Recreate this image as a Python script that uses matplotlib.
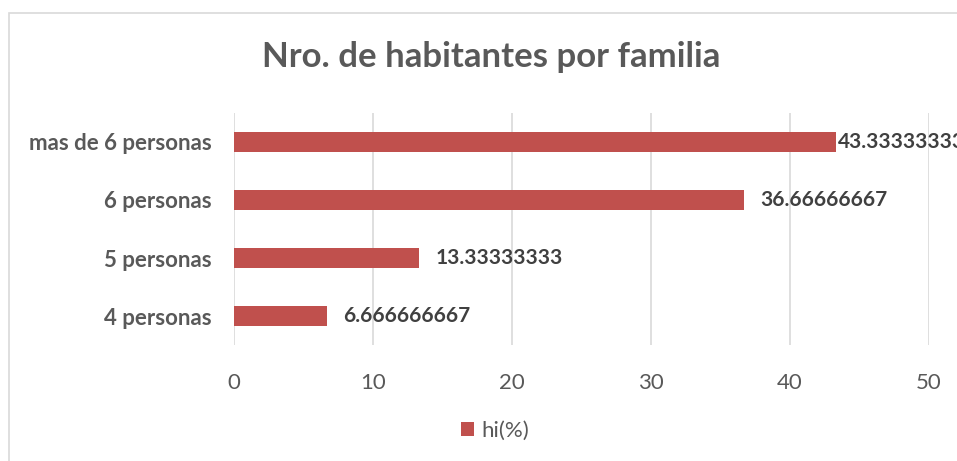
import matplotlib
matplotlib.use("Agg")
import matplotlib.pyplot as plt
from matplotlib.patches import Rectangle

categories = ["4 personas", "5 personas", "6 personas", "mas de 6 personas"]
hi_pct = [6.666666667, 13.33333333, 36.66666667, 43.33333333]
value_labels = ["6.666666667", "13.33333333", "36.66666667", "43.33333333"]
x_ticks = [0, 10, 20, 30, 40, 50]

BAR = "#C0504D"
GRID = "#D9D9D9"
TEXT = "#595959"
LABEL = "#404040"

plt.rcParams["font.family"] = ["Lato", "DejaVu Sans"]

fig = plt.figure(figsize=(9.57, 4.61), dpi=100)
ax = fig.add_axes([0.2445, 0.2516, 0.7262, 0.5033])

# chart frame (cut off at the right/bottom like the screenshot)
fig.patches.append(Rectangle((9 / 957, -0.1), 1.2, 1 - 13 / 461 + 0.1,
                             transform=fig.transFigure, fill=False,
                             edgecolor=GRID, linewidth=1.2))

ypos = range(len(categories))
bars = ax.barh(ypos, hi_pct, height=0.34, color=BAR, label="hi(%)", zorder=2)

for i, (b, txt) in enumerate(zip(bars, value_labels)):
    # the longest label sits right against its bar end (cut by the frame, as in the source)
    pad = 1 if i == len(bars) - 1 else 12
    ax.annotate(txt, (b.get_width(), b.get_y() + b.get_height() / 2),
                xytext=(pad, 0), textcoords="offset points",
                ha="left", va="center", fontsize=15, fontweight="bold",
                color=LABEL, annotation_clip=False)

ax.set_xlim(0, 50)
ax.set_ylim(-0.5, len(categories) - 0.5)
ax.set_xticks(x_ticks)
ax.set_yticks(list(ypos))
ax.set_yticklabels(categories, fontsize=16, fontweight="bold", color=TEXT)
ax.tick_params(axis="x", labelsize=16, labelcolor=TEXT, length=0, pad=20)
ax.tick_params(axis="y", length=0, pad=16)
ax.grid(axis="x", color=GRID, linewidth=1.2, zorder=0)
ax.set_axisbelow(True)
for s in ax.spines.values():
    s.set_visible(False)

fig.text(491 / 957, 1 - 57 / 461, "Nro. de habitantes por familia",
         ha="center", va="center", fontsize=25, fontweight="bold", color=TEXT)

leg = fig.legend(loc="center", bbox_to_anchor=(495 / 957, 1 - 431 / 461),
                 frameon=False, fontsize=16, handlelength=0.6, handleheight=0.6,
                 handletextpad=0.3)
for t in leg.get_texts():
    t.set_color(TEXT)

fig.savefig("out.png", dpi=100)
